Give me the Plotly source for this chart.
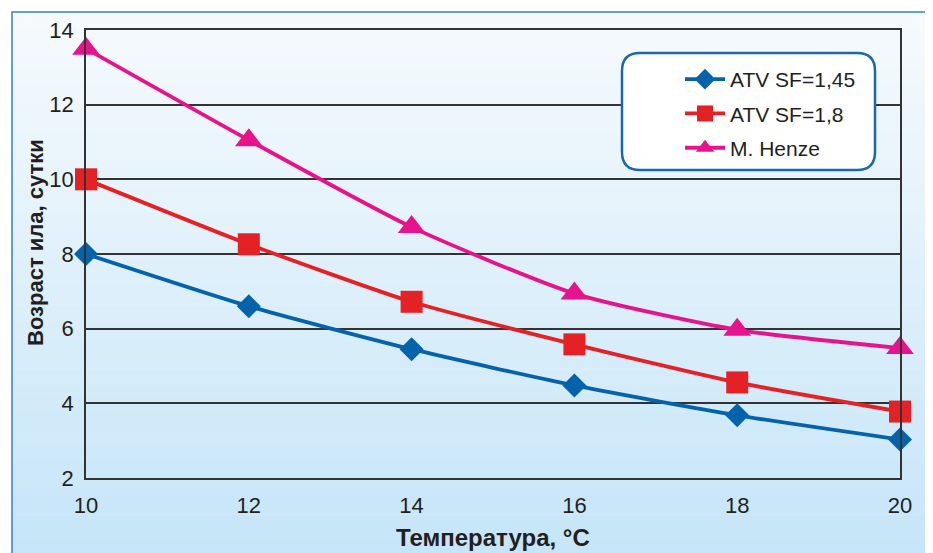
import plotly.graph_objects as go

temps = [10, 12, 14, 16, 18, 20]
atv_145 = [8.0, 6.6, 5.45, 4.48, 3.68, 3.03]
atv_18 = [10.0, 8.26, 6.72, 5.58, 4.56, 3.78]
henze = [13.5, 11.05, 8.72, 6.94, 5.97, 5.48]

names = ["ATV SF=1,45", "ATV SF=1,8", "M. Henze"]
colors = ["#0563AC", "#E42226", "#E5148C"]
symbols = ["diamond", "square", "triangle-up"]
sizes = [18.5, 22, 24]
y_ticks = [2, 4, 6, 8, 10, 12, 14]
x_ticks = [10, 12, 14, 16, 18, 20]
x_title = "Температура, °C"
y_title = "Возраст ила, сутки"

OFF = 8  # page body margin
W, H = 933 - OFF, 553 - OFF
L, T = 86 - OFF, 30 - OFF
R = W - (900 - OFF)
B = H - (478 - OFF)
pw, ph = W - L - R, H - T - B


def px(x):  # page pixel -> paper x
    return (x - OFF - L) / pw


def py(y):  # page pixel -> paper y
    return (H - B - (y - OFF)) / ph


fig = go.Figure()
for name, vals, c, s, sz in zip(names, [atv_145, atv_18, henze], colors, symbols, sizes):
    fig.add_trace(go.Scatter(
        x=temps, y=vals, name=name, mode="lines+markers",
        line=dict(color=c, width=3.8, shape="spline", smoothing=0.6),
        marker=dict(symbol=s, size=sz, color=c, line=dict(width=0)),
        legendgroup=name,
        cliponaxis=False,
    ))

shapes = []
# gradient background
top_c = (246, 250, 253)
bot_c = (197, 229, 248)
y0p, y1p = 12, 560
n = 60
for i in range(n):
    a = y0p + (y1p - y0p) * i / n
    b = y0p + (y1p - y0p) * (i + 1) / n + 0.5
    t = i / (n - 1)
    col = tuple(round(top_c[k] + (bot_c[k] - top_c[k]) * t) for k in range(3))
    shapes.append(dict(type="rect", xref="paper", yref="paper",
                       x0=px(12), x1=px(930), y0=py(b), y1=py(a),
                       fillcolor="rgb(%d,%d,%d)" % col, line=dict(width=0), layer="below"))
# outer border
shapes.append(dict(type="rect", xref="paper", yref="paper",
                   x0=px(12), x1=px(930), y0=py(570), y1=py(12),
                   fillcolor="rgba(0,0,0,0)", line=dict(color="#3E7FC1", width=1.5), layer="below"))
# legend rounded box
lx0, lx1, ly0, ly1, rr = 622, 875, 53, 170, 18
path = (f"M {px(lx0+rr)},{py(ly0)} L {px(lx1-rr)},{py(ly0)} "
        f"Q {px(lx1)},{py(ly0)} {px(lx1)},{py(ly0+rr)} "
        f"L {px(lx1)},{py(ly1-rr)} Q {px(lx1)},{py(ly1)} {px(lx1-rr)},{py(ly1)} "
        f"L {px(lx0+rr)},{py(ly1)} Q {px(lx0)},{py(ly1)} {px(lx0)},{py(ly1-rr)} "
        f"L {px(lx0)},{py(ly0+rr)} Q {px(lx0)},{py(ly0)} {px(lx0+rr)},{py(ly0)} Z")
shapes.append(dict(type="path", xref="paper", yref="paper", path=path,
                   fillcolor="white", line=dict(color="#1B68AE", width=2.5), layer="above"))

font = "Liberation Sans, Arial, sans-serif"
annotations = [
    dict(text=f"<b>{x_title}</b>", xref="paper", yref="paper", x=px(493), y=py(537),
         xanchor="center", yanchor="middle", showarrow=False,
         font=dict(size=24, family=font, color="#231F20")),
    dict(text=f"<b>{y_title}</b>", xref="paper", yref="paper", x=px(35), y=py(243),
         xanchor="center", yanchor="middle", showarrow=False, textangle=-90,
         font=dict(size=22, family=font, color="#231F20")),
]

fig.update_layout(
    width=W, height=H,
    margin=dict(l=L, r=R, t=T, b=B, autoexpand=False),
    paper_bgcolor="white",
    plot_bgcolor="rgba(0,0,0,0)",
    shapes=shapes,
    annotations=annotations,
    font=dict(family=font, color="#231F20"),
    showlegend=True,
    legend=dict(x=px(680), y=py(59), xanchor="left", yanchor="top",
                bgcolor="rgba(0,0,0,0)", font=dict(size=21, color="#231F20"),
                tracegroupgap=4, itemwidth=40),
    xaxis=dict(range=[10, 20], tickvals=x_ticks, showgrid=False, zeroline=False,
               showline=True, linecolor="#333333", linewidth=1.5, mirror=True, automargin=False,
               ticks="", tickfont=dict(size=22), ticklabelstandoff=7),
    yaxis=dict(range=[2, 14], tickvals=y_ticks, showgrid=True, gridcolor="#333333", gridwidth=1.6,
               zeroline=False, showline=True, linecolor="#333333", linewidth=1.5, mirror=True,
               automargin=False,
               ticks="", tickfont=dict(size=22), ticklabelstandoff=6),
)
fig.write_html("out.html")
